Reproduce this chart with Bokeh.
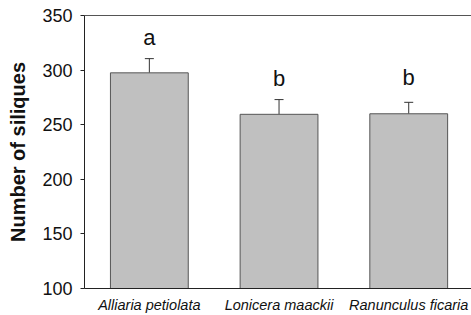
from bokeh.plotting import figure
from bokeh.models import FixedTicker, LinearAxis, Range1d, Whisker, ColumnDataSource, TeeHead
from bokeh.embed import file_html
from bokeh.resources import INLINE
from bokeh.core.properties import value

species = ["Alliaria petiolata", "Lonicera maackii", "Ranunculus ficaria"]
means = [297.5, 259.5, 260.0]
upper = [310.5, 273.0, 270.5]
letters = ["a", "b", "b"]
letter_y = [330.0, 292.0, 293.0]
y_ticks = [100, 150, 200, 250, 300, 350]

xs = [1, 2, 3]
src = ColumnDataSource(dict(x=xs, top=means, upper=upper, letters=letters, ly=letter_y))

p = figure(frame_width=387, frame_height=273, output_backend="svg", toolbar_location=None,
           x_range=Range1d(0.5, 3.484), y_range=Range1d(100, 350),
           min_border_left=84, min_border_right=0, min_border_top=15, min_border_bottom=0)
p.grid.visible = False
p.outline_line_color = None
p.background_fill_color = "white"
p.border_fill_color = "white"

p.vbar(x="x", top="top", bottom=100, width=0.6, source=src,
       fill_color="#c0c0c0", line_color="#555555", line_width=1)

w = Whisker(base="x", upper="upper", lower="top", source=src, dimension="height",
            line_color="#333333", line_width=1,
            upper_head=TeeHead(size=9, line_color="#333333", line_width=1), lower_head=None)
p.add_layout(w)

p.text(x="x", y="ly", text="letters", source=src, text_align="center",
       text_baseline="middle", text_font=value("Liberation Sans"),
       text_font_size="22px", text_color="#111111")

# y axis
ya = p.yaxis[0]
ya.ticker = FixedTicker(ticks=y_ticks)
ya.major_tick_in = 0
ya.major_tick_out = 4
ya.minor_tick_line_color = None
ya.axis_line_color = "#222222"
ya.major_tick_line_color = "#222222"
ya.major_label_text_font = "Liberation Sans"
ya.major_label_text_font_size = "18px"
ya.major_label_text_color = "#111111"
ya.major_label_standoff = 8
ya.axis_label = "Number of siliques"
ya.axis_label_text_font = "Liberation Sans"
ya.axis_label_text_font_style = "bold"
ya.axis_label_text_font_size = "20px"
ya.axis_label_text_color = "#111111"
ya.axis_label_standoff = 10

# x axis
xa = p.xaxis[0]
xa.ticker = FixedTicker(ticks=xs)
xa.major_label_overrides = {1: species[0], 2: species[1], 3: species[2]}
xa.major_tick_line_color = None
xa.minor_tick_line_color = None
xa.axis_line_color = "#222222"
xa.major_label_text_font = "Liberation Sans"
xa.major_label_text_font_style = "italic"
xa.major_label_text_font_size = "14.5px"
xa.major_label_text_color = "#111111"
xa.major_label_standoff = 2

# top frame line
ta = LinearAxis(ticker=FixedTicker(ticks=[]), axis_line_color="#555555",
                major_tick_line_color=None, minor_tick_line_color=None,
                major_label_text_font_size="0px", major_label_standoff=0)
p.add_layout(ta, "above")

open("out.html", "w").write(file_html(p, INLINE))
